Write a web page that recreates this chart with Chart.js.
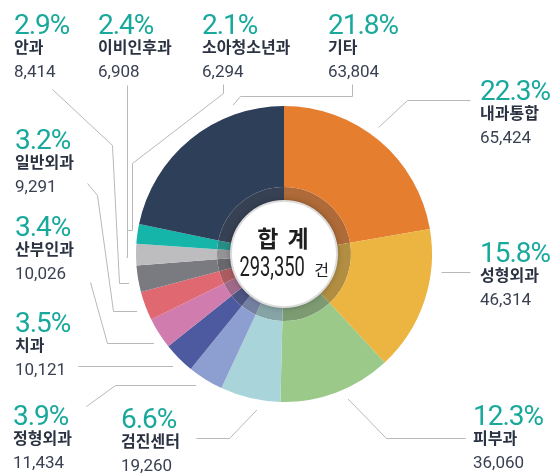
<!DOCTYPE html>
<html>
<head>
<meta charset="utf-8">
<script src="https://cdn.jsdelivr.net/npm/chart.js@4.4.1/dist/chart.umd.min.js"></script>
<style>
  html, body { margin: 0; padding: 0; background: #fff; }
  #wrap { position: relative; width: 555px; height: 475px; overflow: hidden; }
  #chart { position: absolute; left: 0; top: 0; }
  .lbl { position: absolute; white-space: nowrap; }
  .lbl .pct { font: 28px Roboto, sans-serif; line-height: 24px; color: #19a99c; letter-spacing: -1px; }
  .lbl .name { font: bold 16px 'Noto Sans CJK KR', sans-serif; line-height: 18px; color: #2b3343; }
  .lbl .val { font: 17px Roboto, sans-serif; line-height: 24px; margin-top: 4px; color: #3a4152; }
  #center { position: absolute; width: 140px; text-align: center; color: #1e1e1e; }
  #center .t1 { font: bold 23px 'Noto Sans CJK KR', sans-serif; line-height: 30px; letter-spacing: 2px; }
  #center .t2 { font: 27px Roboto, sans-serif; line-height: 30px; white-space: nowrap; }
  #center .num { display: inline-block; transform: scaleX(0.68); margin: 0 -15px; }
  #center .unit { font: 16px 'Noto Sans CJK KR', sans-serif; margin-left: 9px; }
</style>
</head>
<body>
<div id="wrap">
  <canvas id="chart" width="555" height="475"></canvas>
  <div id="labels"></div>
  <div id="center"><div class="t1">합 계</div><div class="t2"><span class="num" id="totalNum"></span><span class="unit">건</span></div></div>
</div>
<script>
// data
const categories = ['내과통합', '성형외과', '피부과', '검진센터', '정형외과', '치과', '산부인과', '일반외과', '안과', '이비인후과', '소아청소년과', '기타'];
const counts = [65424, 46314, 36060, 19260, 11434, 10121, 10026, 9291, 8414, 6908, 6294, 63804];
const shares = [22.3, 15.8, 12.3, 6.6, 3.9, 3.5, 3.4, 3.2, 2.9, 2.4, 2.1, 21.8];
const total = 293350;

const colors = ['#e67e30', '#ecb440', '#9bc98a', '#a9d5da', '#8d9fd0', '#4e5aa0', '#d07cae', '#e06870', '#7a7b80', '#bdbdbf', '#15b5aa', '#2e3f5a'];

// label block positions (left, baseline of the percentage)
const labelPos = [
  [480, 101], [480, 263], [473, 426], [121, 429], [13, 426], [15, 333],
  [15, 237], [15, 150], [14, 35], [98, 35], [202, 35], [328, 35]
];
// leader lines, from the label toward the slice (last point is pulled onto the ring)
const leaders = [
  [[470, 100], [407, 100], [377, 128]],
  [[470, 272], [442, 272]],
  [[465, 438], [386, 438], [348, 399]],
  [[196, 438], [229, 438], [255, 411]],
  [[86, 406], [115, 385], [196, 385]],
  [[78, 366], [173, 366]],
  [[90, 282], [107, 343], [157, 343]],
  [[87, 183], [97, 195], [113, 311], [138, 311]],
  [[52, 89], [112, 145], [119, 283], [137, 283]],
  [[127, 85], [127, 257], [138, 257]],
  [[223, 84], [223, 93], [132, 163], [132, 230], [137, 230]],
  [[352, 84], [352, 96], [240, 96], [222, 117]]
];

function shade(hex) {
  const n = parseInt(hex.slice(1), 16);
  const mix = c => Math.round(c * 0.65 + 70 * 0.35);
  return `rgb(${mix(n >> 16)}, ${mix((n >> 8) & 255)}, ${mix(n & 255)})`;
}

const fmt = v => v.toLocaleString('en-US');

// labels
const labelsEl = document.getElementById('labels');
categories.forEach((c, i) => {
  const d = document.createElement('div');
  d.className = 'lbl';
  d.style.left = labelPos[i][0] + 'px';
  d.style.top = (labelPos[i][1] - 21.7) + 'px';
  d.innerHTML = `<div class="pct">${shares[i].toFixed(1)}%</div><div class="name">${c}</div><div class="val">${fmt(counts[i])}</div>`;
  labelsEl.appendChild(d);
});
document.getElementById('totalNum').textContent = fmt(total);

const decor = {
  id: 'decor',
  beforeDatasetsDraw(chart) {
    const ctx = chart.ctx;
    const arcs = chart.getDatasetMeta(0).data;
    ctx.save();
    ctx.strokeStyle = '#b8b8b8';
    ctx.lineWidth = 1;
    leaders.forEach((pts, i) => {
      const a = arcs[i];
      const R = a.outerRadius + 10;
      const P = pts[pts.length - 2], Q = pts[pts.length - 1];
      let dx = Q[0] - P[0], dy = Q[1] - P[1];
      const len = Math.hypot(dx, dy); dx /= len; dy /= len;
      const px = P[0] - a.x, py = P[1] - a.y;
      const b = dx * px + dy * py, c = px * px + py * py - R * R;
      let end = Q;
      if (b * b - c >= 0) {
        const t = -b - Math.sqrt(b * b - c);
        end = [P[0] + t * dx, P[1] + t * dy];
      }
      ctx.beginPath();
      ctx.moveTo(pts[0][0] + 0.5, pts[0][1] + 0.5);
      for (let k = 1; k < pts.length - 1; k++) ctx.lineTo(pts[k][0] + 0.5, pts[k][1] + 0.5);
      ctx.lineTo(end[0] + 0.5, end[1] + 0.5);
      ctx.stroke();
    });
    ctx.restore();
  },
  afterDatasetsDraw(chart) {
    const ctx = chart.ctx;
    const a = chart.getDatasetMeta(1).data[0];
    ctx.save();
    ctx.beginPath();
    ctx.arc(a.x, a.y, a.innerRadius + 3, 0, Math.PI * 2);
    ctx.shadowColor = 'rgba(0,0,0,0.35)';
    ctx.shadowBlur = 6;
    ctx.fillStyle = '#fff';
    ctx.fill();
    ctx.shadowColor = 'transparent';
    ctx.lineWidth = 2;
    ctx.strokeStyle = '#dcdcdc';
    ctx.stroke();
    ctx.restore();
  }
};

const chart = new Chart(document.getElementById('chart').getContext('2d'), {
  type: 'doughnut',
  data: {
    labels: categories,
    datasets: [
      { data: counts, backgroundColor: colors, borderWidth: 0, weight: 81 },
      { data: counts, backgroundColor: colors.map(shade), borderWidth: 0, weight: 17 }
    ]
  },
  options: {
    responsive: false,
    animation: false,
    cutout: 50,
    layout: { padding: { left: 136, right: 123, top: 106, bottom: 73 } },
    plugins: { legend: { display: false }, tooltip: { enabled: false } }
  },
  plugins: [decor]
});

// center text
const m = chart.getDatasetMeta(0).data[0];
const center = document.getElementById('center');
center.style.left = (m.x - 70) + 'px';
center.style.top = (m.y - 32) + 'px';
</script>
</body>
</html>
